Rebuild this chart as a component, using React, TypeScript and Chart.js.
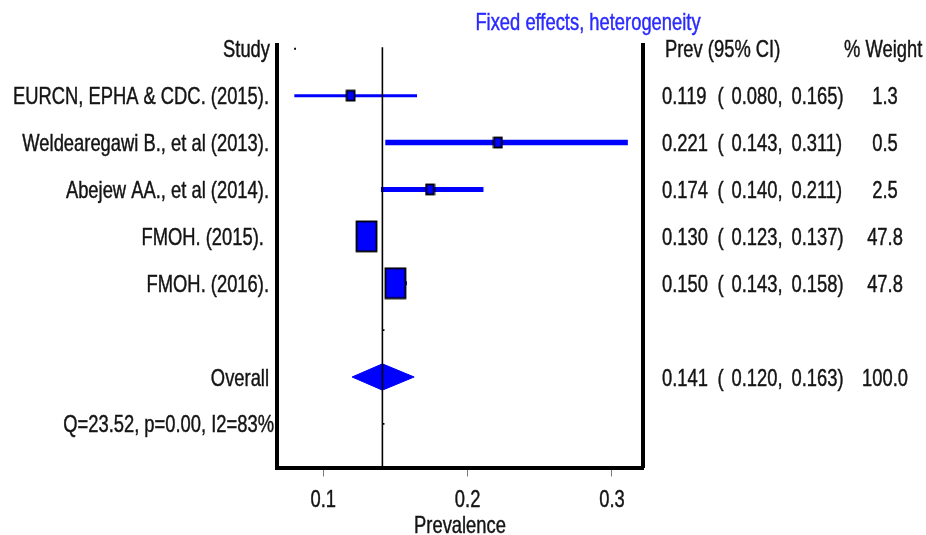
import React, { useEffect, useRef } from "react";
import { Chart, registerables } from "chart.js";

Chart.register(...registerables);

// ---------------- data ----------------
const titleText = "Fixed effects, heterogeneity";
const studyHeader = "Study";
const ciHeader = "Prev (95% CI)";
const weightHeader = "% Weight";
const axisTitle = "Prevalence";

const studies = [
  "EURCN, EPHA & CDC. (2015).",
  "Weldearegawi B., et al (2013).",
  "Abejew AA., et al (2014).",
  "FMOH. (2015). ",
  "FMOH. (2016).",
];
const prevalence = [0.119, 0.221, 0.174, 0.13, 0.15];
const ciLower = [0.08, 0.143, 0.14, 0.123, 0.143];
const ciUpper = [0.165, 0.311, 0.211, 0.137, 0.158];
const weights = [1.3, 0.5, 2.5, 47.8, 47.8];

const overallLabel = "Overall";
const overallPrev = 0.141;
const overallLower = 0.12;
const overallUpper = 0.163;
const overallWeight = 100.0;
const heterogeneityLabel = "Q=23.52, p=0.00, I2=83%";

const xTicks = [0.1, 0.2, 0.3];

// ---------------- style ----------------
const BLUE = "#0000ff";
const TITLE_BLUE = "#2a2aff";
const TEXT_COLOR = "#141414";
const FONT = '"Liberation Sans", Arial, sans-serif';
const FONT_PX = 24;
const TEXT_SX = 0.765;
const CAP_OFFSET = 8.6;
const ciWidths = [3, 5.5, 5, 4, 4];
const DIAMOND_HALF = 0.28;

const HEADER_ROW = 0;
const studyRow = (i: number) => i + 1;
const OVERALL_ROW = studies.length + 2;
const HET_ROW = studies.length + 3;

function makeBox(w: number, h: number) {
  const c = document.createElement("canvas");
  c.width = w + 2;
  c.height = h + 2;
  const g = c.getContext("2d")!;
  g.fillStyle = BLUE;
  g.fillRect(1, 1, w, h);
  g.strokeStyle = "#000";
  g.lineWidth = 1.8;
  g.strokeRect(1.5, 1.5, w - 1, h - 1);
  return c;
}
const boxFor = (w: number) => (w >= 10 ? makeBox(21, 31) : makeBox(9, 11));

const textPlugin = {
  id: "forestText",
  afterDraw(chart: any) {
    const ctx: CanvasRenderingContext2D = chart.ctx;
    const ys = chart.scales.y;
    const xs = chart.scales.x;
    const area = chart.chartArea;
    const put = (
      text: string,
      px: number,
      py: number,
      align: CanvasTextAlign,
      color = TEXT_COLOR
    ) => {
      ctx.save();
      ctx.font = `${FONT_PX}px ${FONT}`;
      ctx.fillStyle = color;
      ctx.strokeStyle = color;
      ctx.lineWidth = 0.45;
      ctx.textBaseline = "alphabetic";
      ctx.textAlign = align;
      ctx.translate(px, py + CAP_OFFSET);
      ctx.scale(TEXT_SX, 1);
      ctx.fillText(text, 0, 0);
      ctx.strokeText(text, 0, 0);
      ctx.restore();
    };
    const rowY = (r: number) => ys.getPixelForValue(r);
    const ciCells = (p: number, lo: number, hi: number, w: number, r: number) => {
      put(p.toFixed(3), 662, r, "left");
      put("(", 717.5, r, "left");
      put(lo.toFixed(3) + ",", 731.5, r, "left");
      put(hi.toFixed(3) + ")", 791.5, r, "left");
      put(w.toFixed(1), 885, r, "center");
    };

    put(titleText, 588, 21.5, "center", TITLE_BLUE);
    put(studyHeader, 270, rowY(HEADER_ROW), "right");
    put(ciHeader, 665, rowY(HEADER_ROW), "left");
    put(weightHeader, 844, rowY(HEADER_ROW), "left");

    studies.forEach((s, i) => {
      const r = rowY(studyRow(i));
      put(s, 269, r, "right");
      ciCells(prevalence[i], ciLower[i], ciUpper[i], weights[i], r);
    });

    const ro = rowY(OVERALL_ROW);
    put(overallLabel, 269, ro, "right");
    ciCells(overallPrev, overallLower, overallUpper, overallWeight, ro);
    put(heterogeneityLabel, 274, rowY(HET_ROW), "right");

    xs.ticks.forEach((t: any) => {
      put(String(t.value), xs.getPixelForValue(t.value), 498, "center");
    });
    put(axisTitle, (area.left + area.right) / 2, 524.5, "center");
  },
};

export default function App() {
  const ref = useRef<HTMLCanvasElement | null>(null);

  useEffect(() => {
    document.body.style.margin = "0";
    const canvas = ref.current!;
    const top = -0.08;
    const bottom = 8.93;

    const refLine = {
      type: "line",
      data: [
        { x: overallPrev, y: -0.03 },
        { x: overallPrev, y: bottom },
      ],
      borderColor: "#000",
      borderWidth: 1.6,
      pointRadius: 0,
      fill: false,
    };

    const boxes = {
      type: "line",
      showLine: false,
      data: prevalence.map((p, i) => ({ x: p, y: studyRow(i) })),
      pointStyle: weights.map((w) => boxFor(w)),
      pointRadius: 5,
      borderWidth: 0,
    };

    const ciLines = studies.map((_, i) => ({
      type: "line",
      data: [
        { x: ciLower[i], y: studyRow(i) },
        { x: ciUpper[i], y: studyRow(i) },
      ],
      borderColor: BLUE,
      borderWidth: ciWidths[i],
      borderCapStyle: "butt",
      pointRadius: 0,
      fill: false,
    }));

    const diamond = {
      type: "line",
      data: [
        { x: overallLower, y: OVERALL_ROW },
        { x: overallPrev, y: OVERALL_ROW - DIAMOND_HALF },
        { x: overallUpper, y: OVERALL_ROW },
        { x: overallPrev, y: OVERALL_ROW + DIAMOND_HALF },
        { x: overallLower, y: OVERALL_ROW },
      ],
      borderColor: BLUE,
      borderWidth: 1,
      backgroundColor: BLUE,
      fill: "shape",
      pointRadius: 0,
      tension: 0,
    };

    const dots = {
      type: "line",
      showLine: false,
      data: [
        { x: 0.0805, y: HEADER_ROW },
        { x: overallPrev + 0.0008, y: 6 },
        { x: overallPrev + 0.0008, y: HET_ROW },
      ],
      pointStyle: "rect",
      pointRadius: 1.3,
      backgroundColor: "#000",
      borderColor: "#000",
      borderWidth: 0,
    };

    const chart = new Chart(canvas, {
      type: "line",
      data: {
        datasets: [refLine, boxes, ...ciLines, diamond, dots] as any,
      },
      options: {
        animation: false,
        responsive: false,
        maintainAspectRatio: false,
        layout: { padding: { left: 277, right: 283, top: 45, bottom: 0 } },
        plugins: {
          legend: { display: false },
          title: { display: false },
          tooltip: { enabled: false },
        },
        scales: {
          x: {
            type: "linear",
            position: "bottom",
            min: 0.068,
            max: 0.3215,
            afterBuildTicks: (s: any) => {
              s.ticks = xTicks.map((v) => ({ value: v }));
            },
            afterFit: (s: any) => {
              s.height = 67.5;
            },
            ticks: { display: false },
            grid: {
              drawOnChartArea: false,
              drawTicks: true,
              tickLength: 9,
              color: "#7a7a7a",
              lineWidth: 1,
            },
            border: { display: true, color: "#000", width: 4 },
          },
          y: {
            type: "linear",
            position: "left",
            reverse: true,
            min: top,
            max: bottom,
            afterFit: (s: any) => {
              s.width = 0;
            },
            ticks: { display: false },
            grid: { display: false, drawTicks: false },
            border: { display: true, color: "#000", width: 4 },
          },
          y2: {
            type: "linear",
            position: "right",
            reverse: true,
            min: top,
            max: bottom,
            afterFit: (s: any) => {
              s.width = 0;
            },
            ticks: { display: false },
            grid: { display: false, drawTicks: false },
            border: { display: true, color: "#000", width: 4 },
          },
        },
      } as any,
      plugins: [textPlugin],
    });

    return () => chart.destroy();
  }, []);

  return (
    <div style={{ position: "fixed", left: 0, top: 0, width: 926, height: 535, background: "#fff" }}>
      <canvas ref={ref} width={926} height={535} />
    </div>
  );
}
